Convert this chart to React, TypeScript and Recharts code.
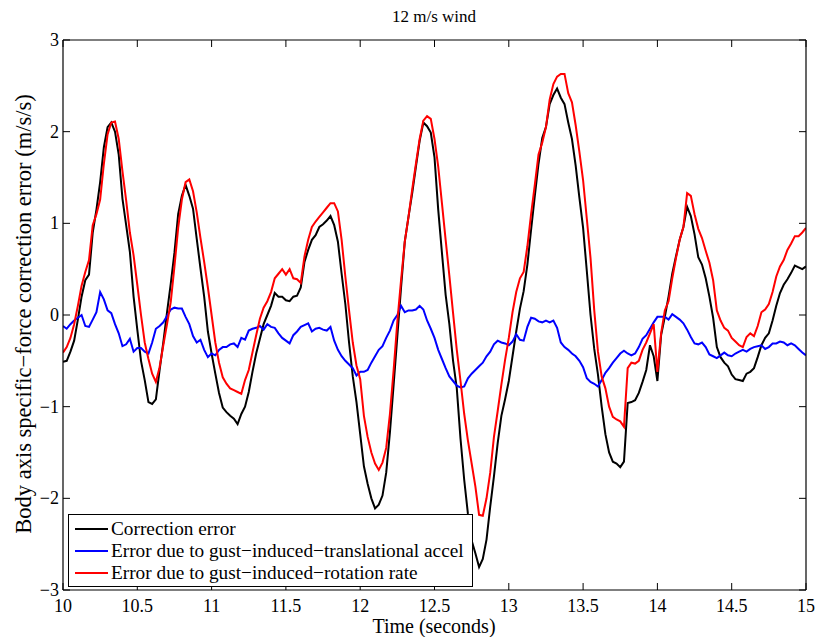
import React from "react";
import { LineChart, Line, XAxis, YAxis, Legend } from "recharts";

const times = [
  10, 10.025, 10.05, 10.075, 10.1, 10.125, 10.15, 10.175, 10.2, 10.225, 10.25, 10.275, 10.3, 10.325, 10.35, 10.375, 10.4, 10.425, 10.45, 10.475,
  10.5, 10.525, 10.55, 10.575, 10.6, 10.625, 10.65, 10.675, 10.7, 10.725, 10.75, 10.775, 10.8, 10.825, 10.85, 10.875, 10.9, 10.925, 10.95, 10.975,
  11, 11.025, 11.05, 11.075, 11.1, 11.125, 11.15, 11.175, 11.2, 11.225, 11.25, 11.275, 11.3, 11.325, 11.35, 11.375, 11.4, 11.425, 11.45, 11.475,
  11.5, 11.525, 11.55, 11.575, 11.6, 11.625, 11.65, 11.675, 11.7, 11.725, 11.75, 11.775, 11.8, 11.825, 11.85, 11.875, 11.9, 11.925, 11.95, 11.975,
  12, 12.025, 12.05, 12.075, 12.1, 12.125, 12.15, 12.175, 12.2, 12.225, 12.25, 12.275, 12.3, 12.325, 12.35, 12.375, 12.4, 12.425, 12.45, 12.475,
  12.5, 12.525, 12.55, 12.575, 12.6, 12.625, 12.65, 12.675, 12.7, 12.725, 12.75, 12.775, 12.8, 12.825, 12.85, 12.875, 12.9, 12.925, 12.95, 12.975,
  13, 13.025, 13.05, 13.075, 13.1, 13.125, 13.15, 13.175, 13.2, 13.225, 13.25, 13.275, 13.3, 13.325, 13.35, 13.375, 13.4, 13.425, 13.45, 13.475,
  13.5, 13.525, 13.55, 13.575, 13.6, 13.625, 13.65, 13.675, 13.7, 13.725, 13.75, 13.775, 13.8, 13.825, 13.85, 13.875, 13.9, 13.925, 13.95, 13.975,
  14, 14.025, 14.05, 14.075, 14.1, 14.125, 14.15, 14.175, 14.2, 14.225, 14.25, 14.275, 14.3, 14.325, 14.35, 14.375, 14.4, 14.425, 14.45, 14.475,
  14.5, 14.525, 14.55, 14.575, 14.6, 14.625, 14.65, 14.675, 14.7, 14.725, 14.75, 14.775, 14.8, 14.825, 14.85, 14.875, 14.9, 14.925, 14.95, 14.975,
  15,
];

const correctionError = [
  -0.51, -0.5, -0.4, -0.28, -0.05, 0.2, 0.38, 0.44, 0.9, 1.15, 1.45, 1.83, 2.05, 2.1, 2.0, 1.75, 1.27, 0.98, 0.69, 0.2,
  -0.16, -0.5, -0.71, -0.95, -0.97, -0.92, -0.6, -0.3, 0.03, 0.34, 0.68, 1.1, 1.3, 1.42, 1.3, 1.16, 0.83, 0.51, 0.2, -0.18,
  -0.42, -0.64, -0.85, -1.01, -1.06, -1.1, -1.13, -1.19, -1.08, -1.0, -0.84, -0.62, -0.42, -0.26, -0.1, 0.0, 0.1, 0.24, 0.2, 0.2,
  0.16, 0.15, 0.2, 0.21, 0.3, 0.58, 0.71, 0.82, 0.87, 0.96, 0.99, 1.03, 1.08, 0.98, 0.8, 0.45, 0.12, -0.3, -0.67, -0.95,
  -1.3, -1.65, -1.84, -2.0, -2.11, -2.07, -1.97, -1.72, -1.28, -0.76, -0.23, 0.3, 0.8, 1.07, 1.33, 1.62, 1.9, 2.1, 2.06, 1.99,
  1.72, 1.15, 0.68, 0.22, -0.1, -0.5, -0.8, -1.35, -1.8, -2.17, -2.46, -2.6, -2.75, -2.66, -2.45, -2.09, -1.76, -1.4, -1.1, -0.92,
  -0.72, -0.45, -0.18, 0.07, 0.26, 0.55, 0.93, 1.3, 1.65, 1.93, 2.05, 2.3, 2.4, 2.47, 2.37, 2.3, 2.1, 1.92, 1.63, 1.28,
  0.95, 0.48, 0.0, -0.37, -0.65, -1.0, -1.3, -1.5, -1.6, -1.62, -1.66, -1.6, -0.96, -0.95, -0.93, -0.85, -0.73, -0.6, -0.33, -0.45,
  -0.72, -0.22, -0.02, 0.2, 0.45, 0.64, 0.82, 0.96, 1.18, 1.08, 0.88, 0.63, 0.55, 0.4, 0.2, -0.03, -0.35, -0.46, -0.52, -0.56,
  -0.65, -0.7, -0.71, -0.72, -0.64, -0.62, -0.58, -0.46, -0.33, -0.25, -0.2, -0.06, 0.1, 0.24, 0.33, 0.39, 0.46, 0.54, 0.52, 0.5,
  0.53,
];

const translationalError = [
  -0.12, -0.15, -0.1, -0.06, -0.03, 0.0, -0.12, -0.13, -0.05, 0.03, 0.25, 0.17, 0.05, 0.02, -0.1, -0.2, -0.34, -0.32, -0.26, -0.4,
  -0.36, -0.36, -0.4, -0.42, -0.3, -0.15, -0.12, -0.08, -0.01, 0.06, 0.08, 0.07, 0.07, -0.02, -0.1, -0.23, -0.3, -0.27, -0.38, -0.46,
  -0.42, -0.44, -0.38, -0.35, -0.35, -0.32, -0.31, -0.35, -0.25, -0.27, -0.17, -0.15, -0.14, -0.12, -0.16, -0.1, -0.13, -0.14, -0.2, -0.25,
  -0.28, -0.31, -0.22, -0.18, -0.13, -0.11, -0.09, -0.18, -0.15, -0.14, -0.16, -0.17, -0.13, -0.28, -0.38, -0.45, -0.5, -0.54, -0.58, -0.66,
  -0.62, -0.62, -0.6, -0.52, -0.45, -0.38, -0.34, -0.25, -0.17, -0.06, 0.0, 0.1, 0.03, 0.05, 0.05, 0.06, 0.1, 0.06, -0.06, -0.15,
  -0.25, -0.38, -0.48, -0.58, -0.67, -0.72, -0.77, -0.79, -0.78, -0.69, -0.64, -0.6, -0.56, -0.52, -0.45, -0.4, -0.32, -0.28, -0.3, -0.31,
  -0.33, -0.29, -0.21, -0.27, -0.28, -0.13, -0.03, -0.04, -0.07, -0.08, -0.06, -0.08, -0.06, -0.14, -0.3, -0.35, -0.38, -0.42, -0.45, -0.5,
  -0.57, -0.69, -0.73, -0.75, -0.78, -0.71, -0.63, -0.58, -0.52, -0.47, -0.42, -0.39, -0.42, -0.44, -0.42, -0.35, -0.26, -0.22, -0.15, -0.08,
  -0.02, -0.02, -0.02, -0.05, 0.01, -0.02, -0.05, -0.09, -0.16, -0.24, -0.31, -0.32, -0.3, -0.35, -0.43, -0.45, -0.47, -0.44, -0.41, -0.44,
  -0.45, -0.42, -0.4, -0.38, -0.4, -0.37, -0.35, -0.34, -0.33, -0.37, -0.35, -0.31, -0.31, -0.29, -0.3, -0.33, -0.31, -0.33, -0.37, -0.41,
  -0.44,
];

const rotationError = [
  -0.41, -0.35, -0.25, -0.1, 0.1, 0.32, 0.47, 0.6, 0.98, 1.1, 1.26, 1.65, 1.97, 2.1, 2.11, 1.92, 1.57, 1.25, 0.9, 0.65,
  0.33, 0.0, -0.3, -0.48, -0.64, -0.73, -0.57, -0.33, -0.1, 0.14, 0.53, 0.95, 1.26, 1.45, 1.48, 1.35, 1.12, 0.84, 0.58, 0.3,
  0.0, -0.3, -0.52, -0.68, -0.75, -0.8, -0.82, -0.84, -0.86, -0.71, -0.6, -0.41, -0.22, -0.04, 0.08, 0.15, 0.25, 0.4, 0.45, 0.5,
  0.44, 0.5, 0.4, 0.39, 0.35, 0.64, 0.82, 0.96, 1.02, 1.07, 1.12, 1.17, 1.22, 1.22, 1.13, 0.82, 0.42, 0.05, -0.3, -0.55,
  -0.7, -1.1, -1.33, -1.5, -1.62, -1.69, -1.61, -1.45, -1.08, -0.6, -0.07, 0.38, 0.8, 1.07, 1.37, 1.65, 1.92, 2.12, 2.17, 2.14,
  1.92, 1.62, 1.22, 0.82, 0.43, 0.02, -0.38, -0.72, -1.08, -1.37, -1.62, -1.87, -2.18, -2.19, -2.0, -1.72, -1.33, -1.05, -0.76, -0.49,
  -0.25, 0.03, 0.25, 0.4, 0.47, 0.75, 1.1, 1.42, 1.75, 1.88, 2.05, 2.35, 2.52, 2.6, 2.63, 2.63, 2.42, 2.32, 2.07, 1.78,
  1.47, 1.05, 0.62, 0.05, -0.4, -0.67, -0.8, -1.0, -1.11, -1.14, -1.16, -1.22, -0.58, -0.52, -0.53, -0.5, -0.38, -0.3, -0.2, -0.1,
  -0.62, -0.2, 0.05, 0.15, 0.4, 0.62, 0.82, 0.96, 1.33, 1.3, 1.1, 0.94, 0.84, 0.7, 0.57, 0.38, 0.05, -0.06, -0.14, -0.17,
  -0.25, -0.29, -0.33, -0.35, -0.24, -0.2, -0.23, -0.12, 0.03, 0.06, 0.12, 0.25, 0.42, 0.53, 0.6, 0.71, 0.78, 0.86, 0.86, 0.9,
  0.95,
];

const xTicks = [10, 10.5, 11, 11.5, 12, 12.5, 13, 13.5, 14, 14.5, 15];
const yTicks = [-3, -2, -1, 0, 1, 2, 3];

const seriesNames = [
  "Correction error",
  "Error due to gust\u2212induced\u2212translational accel",
  "Error due to gust\u2212induced\u2212rotation rate",
];
const seriesColors = ["#000000", "#0000ff", "#ff0000"];

const data = times.map((t, i) => ({
  t,
  corr: correctionError[i],
  trans: translationalError[i],
  rot: rotationError[i],
}));

const FONT = "'Liberation Serif', 'Times New Roman', serif";
const fmt = (v: number) => (v < 0 ? "\u2212" + String(Math.abs(v)) : String(v));

const LeftTick = (props: any) => {
  const { x, y, payload } = props;
  return (
    <g>
      <line x1={x} x2={x + 7} y1={y} y2={y} stroke="#000" strokeWidth={1} />
      <text x={x - 4} y={y} textAnchor="end" dominantBaseline="central" fontSize={18} fontFamily={FONT} fill="#000">
        {fmt(payload.value)}
      </text>
    </g>
  );
};
const RightTick = (props: any) => {
  const { x, y } = props;
  return <line x1={x - 7} x2={x} y1={y} y2={y} stroke="#000" strokeWidth={1} />;
};
const BottomTick = (props: any) => {
  const { x, y, payload } = props;
  return (
    <g>
      <line x1={x} x2={x} y1={y} y2={y - 7} stroke="#000" strokeWidth={1} />
      <text x={x} y={y + 9} dy="0.71em" textAnchor="middle" fontSize={18} fontFamily={FONT} fill="#000">
        {fmt(payload.value)}
      </text>
    </g>
  );
};
const TopTick = (props: any) => {
  const { x, y } = props;
  return <line x1={x} x2={x} y1={y} y2={y + 7} stroke="#000" strokeWidth={1} />;
};

const LegendBox = () => (
  <div
    style={{
      position: "relative",
      width: 405,
      height: 73,
      border: "1px solid #000",
      boxSizing: "border-box",
      background: "#fff",
      fontFamily: FONT,
      fontSize: 19.3,
      color: "#000",
    }}
  >
    {seriesNames.map((n, i) => (
      <div key={n} style={{ position: "absolute", left: 0, top: 3 + i * 22, height: 22, width: 403, whiteSpace: "nowrap" }}>
        <svg width={40} height={22} style={{ position: "absolute", left: 0, top: 0 }}>
          <line x1={6} x2={39} y1={11} y2={11} stroke={seriesColors[i]} strokeWidth={2} />
        </svg>
        <span style={{ position: "absolute", left: 42, top: 0, lineHeight: "22px" }}>{n}</span>
      </div>
    ))}
  </div>
);

export default function App() {
  return (
    <div style={{ position: "absolute", left: 0, top: 0, width: 817, height: 637, background: "#fff" }}>
      <LineChart width={817} height={637} data={data} margin={{ top: 30, right: 1, bottom: 17, left: 23 }}>
        <XAxis
          dataKey="t"
          type="number"
          domain={[10, 15]}
          ticks={xTicks}
          allowDataOverflow
          height={30}
          tickSize={0}
          tickMargin={0}
          tickLine={false}
          tick={<BottomTick />}
          axisLine={{ stroke: "#000", strokeWidth: 1.2 }}
          label={{
            content: () => (
              <text x={434} y={633} textAnchor="middle" fontSize={20} fontFamily={FONT} fill="#000">
                Time (seconds)
              </text>
            ),
          }}
        />
        <XAxis
          xAxisId="top"
          orientation="top"
          dataKey="t"
          type="number"
          domain={[10, 15]}
          ticks={xTicks}
          allowDataOverflow
          height={10}
          tickSize={0}
          tickMargin={0}
          tickLine={false}
          tick={<TopTick />}
          axisLine={{ stroke: "#000", strokeWidth: 1.2 }}
          label={{
            content: () => (
              <text x={434} y={22} textAnchor="middle" fontSize={17} fontFamily={FONT} fill="#000">
                12 m/s wind
              </text>
            ),
          }}
        />
        <YAxis
          type="number"
          domain={[-3, 3]}
          ticks={yTicks}
          allowDataOverflow
          width={40}
          tickSize={0}
          tickMargin={0}
          tickLine={false}
          tick={<LeftTick />}
          axisLine={{ stroke: "#000", strokeWidth: 1.2 }}
          label={{
            content: () => (
              <text
                x={23}
                y={314}
                transform="rotate(-90, 23, 314)"
                textAnchor="middle"
                dominantBaseline="central"
                fontSize={22.5}
                fontFamily={FONT}
                fill="#000"
              >
                Body axis specific{"\u2212"}force correction error (m/s/s)
              </text>
            ),
          }}
        />
        <YAxis
          yAxisId="right"
          orientation="right"
          type="number"
          domain={[-3, 3]}
          ticks={yTicks}
          allowDataOverflow
          width={10}
          tickSize={0}
          tickMargin={0}
          tickLine={false}
          tick={<RightTick />}
          axisLine={{ stroke: "#000", strokeWidth: 1.2 }}
        />
        <Line dataKey="corr" name={seriesNames[0]} stroke={seriesColors[0]} strokeWidth={2} dot={false} isAnimationActive={false} />
        <Line dataKey="trans" name={seriesNames[1]} stroke={seriesColors[1]} strokeWidth={2} dot={false} isAnimationActive={false} />
        <Line dataKey="rot" name={seriesNames[2]} stroke={seriesColors[2]} strokeWidth={2} dot={false} isAnimationActive={false} />
        <Legend
          layout="vertical"
          align="center"
          verticalAlign="middle"
          content={<LegendBox />}
          wrapperStyle={{ position: "absolute", left: 68, top: 514, width: 405, height: 73 }}
        />
      </LineChart>
    </div>
  );
}
